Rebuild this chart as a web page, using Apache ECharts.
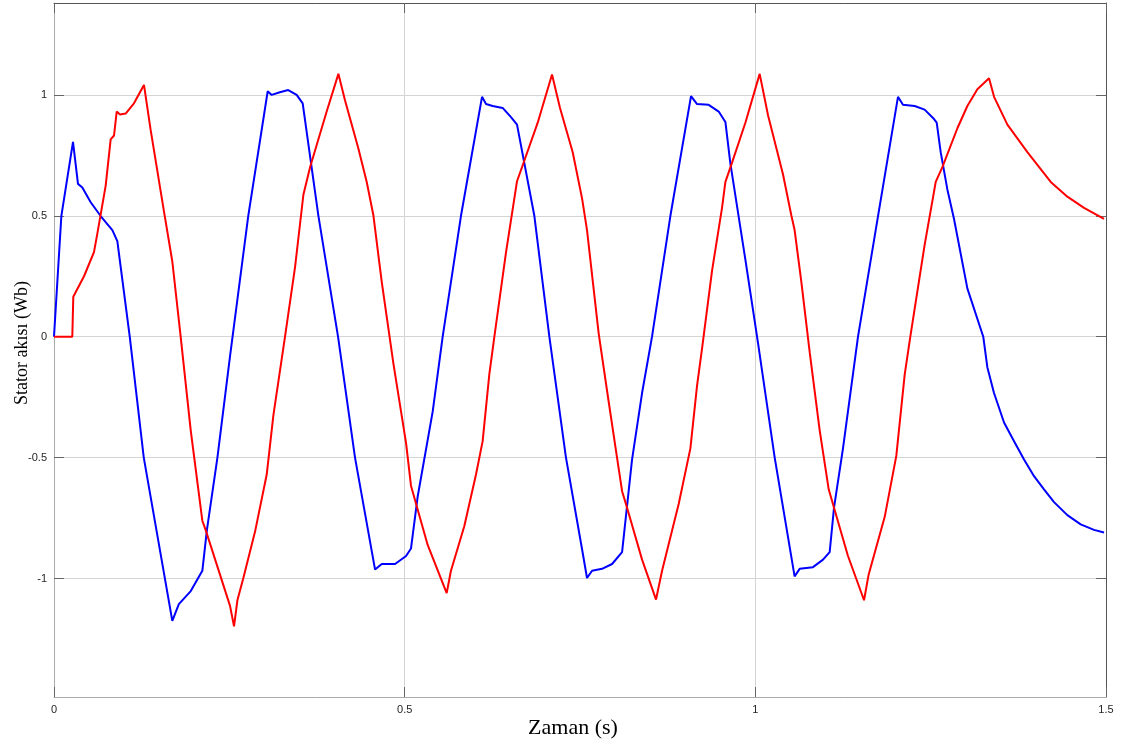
<!DOCTYPE html>
<html><head><meta charset="utf-8">
<script src="https://cdn.jsdelivr.net/npm/echarts@6/dist/echarts.min.js"></script>
<style>html,body{margin:0;padding:0;background:#fff}#c{width:1123px;height:747px}</style>
</head><body><div id="c"></div>
<script>
const blueT=[0,0.0105,0.0271,0.0342,0.0404,0.0523,0.0665,0.0832,0.0903,0.108,0.128,0.1687,0.178,0.195,0.2115,0.218,0.233,0.251,0.277,0.3047,0.3104,0.322,0.334,0.346,0.3546,0.377,0.405,0.4292,0.4578,0.4673,0.4863,0.502,0.509,0.5185,0.54,0.5542,0.5803,0.6103,0.616,0.6255,0.6397,0.6516,0.6602,0.6849,0.7063,0.73,0.753,0.76,0.7672,0.7814,0.7957,0.81,0.8242,0.8385,0.8527,0.8789,0.9083,0.9169,0.9335,0.9478,0.9573,0.9644,0.9858,1.004,1.0276,1.056,1.0632,1.0822,1.0965,1.106,1.1122,1.125,1.1464,1.175,1.2034,1.2105,1.2272,1.2414,1.2548,1.2586,1.2643,1.2738,1.2833,1.3023,1.325,1.3308,1.3403,1.3546,1.3689,1.3831,1.3974,1.4116,1.4259,1.4449,1.4639,1.4829,1.4972];
const blueV=[0,0.50,0.806,0.632,0.617,0.556,0.499,0.441,0.395,0,-0.5,-1.175,-1.106,-1.052,-0.968,-0.80,-0.5,-0.08,0.50,1.015,1.0,1.011,1.02,1.0,0.965,0.5,0,-0.5,-0.963,-0.94,-0.94,-0.907,-0.876,-0.662,-0.309,0,0.5,0.992,0.962,0.954,0.946,0.908,0.877,0.5,0,-0.5,-0.88,-0.998,-0.968,-0.96,-0.94,-0.891,-0.508,-0.233,0,0.5,0.995,0.962,0.959,0.931,0.888,0.717,0.319,-0.03,-0.5,-0.991,-0.96,-0.953,-0.922,-0.891,-0.707,-0.462,0,0.5,0.992,0.959,0.954,0.939,0.9,0.885,0.763,0.609,0.487,0.2,0,-0.126,-0.233,-0.355,-0.432,-0.508,-0.577,-0.631,-0.684,-0.738,-0.776,-0.799,-0.81];
const redT=[0,0.0261,0.0275,0.0428,0.057,0.0618,0.0737,0.0808,0.0856,0.0894,0.0941,0.1022,0.114,0.1283,0.1378,0.1568,0.1687,0.1806,0.1949,0.2115,0.2163,0.251,0.2567,0.2615,0.27,0.2866,0.3033,0.3128,0.3294,0.3437,0.3556,0.3651,0.3888,0.4055,0.415,0.434,0.4459,0.4554,0.4673,0.4839,0.502,0.509,0.5328,0.5599,0.566,0.585,0.6017,0.6112,0.6207,0.6279,0.6445,0.6602,0.6683,0.6897,0.7101,0.7215,0.7396,0.753,0.76,0.7767,0.791,0.8028,0.81,0.8171,0.8385,0.8584,0.867,0.8907,0.9074,0.9169,0.924,0.9383,0.9525,0.9573,0.9668,0.9858,1.0062,1.0181,1.0395,1.0513,1.056,1.0656,1.0775,1.0917,1.1046,1.1122,1.132,1.155,1.1616,1.1844,1.201,1.213,1.221,1.2414,1.2548,1.2572,1.2667,1.2881,1.3023,1.3166,1.3332,1.3404,1.3594,1.3879,1.4212,1.4449,1.4687,1.4972];
const redV=[0,0,0.165,0.25,0.35,0.426,0.625,0.816,0.832,0.931,0.919,0.923,0.965,1.041,0.855,0.518,0.311,0,-0.386,-0.761,-0.80,-1.113,-1.198,-1.09,-0.998,-0.807,-0.57,-0.325,0,0.288,0.587,0.701,0.931,1.087,0.977,0.778,0.64,0.502,0.227,-0.11,-0.44,-0.616,-0.861,-1.06,-0.968,-0.784,-0.57,-0.432,-0.156,0,0.349,0.643,0.709,0.885,1.084,0.946,0.763,0.571,0.441,0.012,-0.271,-0.5,-0.639,-0.707,-0.922,-1.087,-0.968,-0.692,-0.462,-0.202,-0.049,0.273,0.533,0.64,0.72,0.885,1.087,0.916,0.671,0.502,0.441,0.227,-0.064,-0.386,-0.631,-0.707,-0.906,-1.09,-0.983,-0.746,-0.493,-0.156,0,0.38,0.6,0.64,0.701,0.862,0.954,1.023,1.069,0.992,0.877,0.763,0.64,0.579,0.533,0.487];
const yTicks=[-1,-0.5,0,0.5,1];
const xTicks=[0,0.5,1,1.5];

const chart=echarts.init(document.getElementById('c'),null,{renderer:'canvas'});
const labelStyle={fontFamily:'Liberation Sans, Arial, sans-serif',fontSize:11,color:'#262626'};
const serif='Liberation Serif, Times New Roman, serif';
chart.setOption({
  animation:false,
  backgroundColor:'#fff',
  grid:{left:54,right:17,top:3,bottom:50,containLabel:false,outerBoundsMode:'none'},
  xAxis:[{
    type:'value',min:0,max:1.5,interval:0.5,position:'bottom',
    name:'Zaman (s)',nameLocation:'middle',nameGap:20,nameMoveOverlap:false,
    nameTextStyle:{fontFamily:serif,fontSize:22,color:'#000',padding:[0,14,0,0]},
    axisLine:{show:true,onZero:false,lineStyle:{color:'#aaaaaa',width:1}},
    axisTick:{show:true,inside:true,length:10,customValues:xTicks,lineStyle:{color:'#666'}},
    axisLabel:Object.assign({margin:7,customValues:xTicks},labelStyle),
    splitLine:{show:true,lineStyle:{color:'#d4d4d4',width:1}}
  },{
    type:'value',min:0,max:1.5,interval:0.5,position:'top',
    axisLine:{show:true,onZero:false,lineStyle:{color:'#555555',width:1}},
    axisTick:{show:true,inside:true,length:10,customValues:xTicks,lineStyle:{color:'#666'}},
    axisLabel:{show:false},splitLine:{show:false}
  }],
  yAxis:[{
    type:'value',min:-1.49,max:1.38,position:'left',
    name:'Stator akısı (Wb)',nameLocation:'middle',nameGap:23,nameMoveOverlap:false,
    nameTextStyle:{fontFamily:serif,fontSize:18,color:'#000',padding:[0,0,0,14]},
    axisLine:{show:true,onZero:false,lineStyle:{color:'#aaaaaa',width:1}},
    axisTick:{show:true,inside:true,length:10,customValues:yTicks,lineStyle:{color:'#666'}},
    axisLabel:Object.assign({margin:7,customValues:yTicks},labelStyle),
    splitLine:{show:true,lineStyle:{color:'#d4d4d4',width:1}}
  },{
    type:'value',min:-1.49,max:1.38,position:'right',
    axisLine:{show:true,onZero:false,lineStyle:{color:'#555555',width:1}},
    axisTick:{show:true,inside:true,length:10,customValues:yTicks,lineStyle:{color:'#666'}},
    axisLabel:{show:false},splitLine:{show:false}
  }],
  series:[{
    type:'line',xAxisIndex:0,yAxisIndex:0,showSymbol:false,symbol:'none',
    lineStyle:{color:'#0000ff',width:2},
    data:blueT.map((t,i)=>[t,blueV[i]])
  },{
    type:'line',xAxisIndex:0,yAxisIndex:0,showSymbol:false,symbol:'none',
    lineStyle:{color:'#ff0000',width:2},
    data:redT.map((t,i)=>[t,redV[i]])
  }]
});
</script></body></html>
